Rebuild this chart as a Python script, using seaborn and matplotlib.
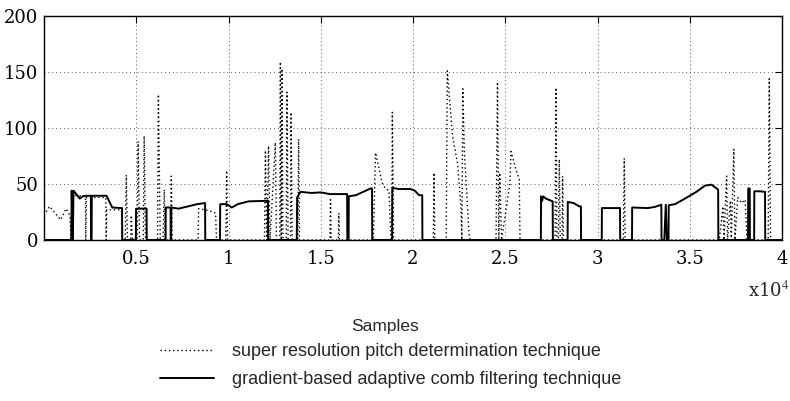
import numpy as np
import pandas as pd
import matplotlib
matplotlib.use('Agg')
import matplotlib.pyplot as plt
import seaborn as sns

# Gradient-based adaptive comb filtering (solid) - breakpoints (samples, pitch)
comb_x = [0, 1480, 1500, 1560, 1600, 1700, 1940, 2100, 2300, 2540, 2550, 2580, 2590, 3390, 3550, 3700, 4230, 4240,
          4980, 4990, 5560, 5570,
          6590, 6600, 6860, 6870, 6890, 6900, 7300, 7800, 8300, 8730, 8740,
          9540, 9550, 9900, 10180, 10500, 11090, 12140, 12150,
          13700, 13720, 13900, 14500, 15000, 15500, 16000, 16430, 16440,
          16510, 16520, 16900, 17300, 17700, 17780, 17790,
          18870, 18880, 19240, 19870, 20100, 20330, 20500, 20510,
          26930, 26940, 27000, 27050, 27200, 27570, 27580,
          28380, 28390, 28700, 29020, 29100, 29110,
          30230, 30240, 31220, 31230,
          31870, 31880, 32730, 33100, 33460, 33470, 33620, 33700, 33760,
          33850, 33860, 34200, 34640, 35000, 35360, 35820, 36180, 36540, 36550,
          38160, 38170, 38250, 38260, 38490, 38500, 38800, 39080, 39090, 40000]
comb_y = [0, 0, 44, 0, 44, 42, 37, 39, 39.5, 39.5, 0, 0, 39.5, 39.5, 34, 29, 28.5, 0,
          0, 28, 28, 0,
          0, 29, 29, 0, 0, 29, 28, 30, 32, 33, 0,
          0, 32, 32, 29, 32, 34.5, 35, 0,
          0, 38, 43, 42, 42.5, 41, 41, 41, 0,
          0, 39, 40, 43, 46, 46, 0,
          0, 46.5, 45.5, 45.5, 44, 40, 40, 0,
          0, 39, 35, 39, 37, 34.5, 0,
          0, 34, 33, 30, 30, 0,
          0, 28.5, 28.5, 0,
          0, 29, 28.5, 29.5, 31.5, 0, 0, 31.5, 0,
          0, 31, 32, 36, 39.5, 43, 48.5, 49.4, 45, 0,
          0, 46, 46, 0, 0, 43.5, 43.5, 43, 0, 0]

# Super resolution pitch determination (dotted) - breakpoints (samples, pitch)
srpd_x = [0, 300, 600, 900, 1200, 1400, 1470, 1520, 2250, 2260, 2300, 3350, 3370, 3400, 4200, 4250,
          4400, 4460, 4520, 4700, 4730, 4800,
          5050, 5100, 5180, 5380, 5430, 5500,
          6150, 6200, 6300, 6450, 6520, 6560, 6850, 6900, 6950,
          8350, 8380, 9000, 9300, 9350, 9850, 9900, 9950,
          11950, 12000, 12080, 12170, 12250, 12540, 12600, 12780, 12810, 12860, 12900, 12950,
          13130, 13170, 13230, 13360, 13390, 13450, 13760, 13800, 13850,
          15500, 15530, 15560, 15950, 15980, 16010,
          17850, 17970, 18330, 18500, 18700, 18800, 18850, 18880, 18950,
          21100, 21140, 21180, 21800, 21860, 22140, 22410, 22600, 22650, 22700, 22780, 23040, 23100,
          24500, 24580, 24650, 24700, 24800, 25250, 25310, 25580, 25760, 25800,
          27700, 27750, 27800, 27880, 27930, 27980, 28080, 28110, 28150,
          31400, 31450, 31500,
          36600, 36800, 36850, 37000, 37050, 37200, 37250, 37390, 37450, 37600, 37800, 38000, 38100,
          39250, 39310, 39380, 40000]
srpd_y = [22, 30, 24, 18, 28, 22, 0, 40, 39, 0, 38, 38, 0, 27, 27, 0,
          0, 58, 0, 0, 22, 0,
          0, 88, 0, 0, 93, 0,
          0, 130, 0, 0, 45, 0, 0, 57, 0,
          0, 28, 26, 24, 0, 0, 62, 0,
          0, 80, 0, 84, 0, 87, 0, 0, 159, 0, 153, 0,
          0, 132, 0, 0, 114, 0, 0, 90, 0,
          0, 36, 0, 0, 24, 0,
          0, 78, 51, 46, 44, 0, 0, 114, 0,
          0, 60, 0, 0, 151, 93, 69, 30, 0, 135, 80, 5, 0,
          0, 141, 0, 60, 0, 50, 79, 63, 54, 0,
          0, 136, 0, 0, 72, 0, 0, 57, 0,
          0, 73, 0,
          0, 30, 0, 57, 0, 35, 0, 81, 0, 38, 33, 36, 0,
          0, 144, 0, 0]

srpd = pd.DataFrame({'x': srpd_x, 'y': srpd_y})
comb = pd.DataFrame({'x': comb_x, 'y': comb_y})

sns.set_style('white')
plt.rcParams['mathtext.fontset'] = 'stix'

fig = plt.figure(figsize=(7.9, 4.01), dpi=100)
ax = fig.add_axes([44 / 790, 161 / 401, 738 / 790, 224 / 401])

sns.lineplot(data=srpd, x='x', y='y', ax=ax, estimator=None, sort=False,
             color='black', linestyle=(0, (1, 2)), linewidth=1.0,
             label='super resolution pitch determination technique')
sns.lineplot(data=comb, x='x', y='y', ax=ax, estimator=None, sort=False,
             color='black', linestyle='-', linewidth=1.4,
             label='gradient-based adaptive comb filtering technique')

ax.set_xlim(0, 40000)
ax.set_ylim(0, 200)
ax.set_xticks([0, 5000, 10000, 15000, 20000, 25000, 30000, 35000, 40000])
ax.set_xticklabels(['', '0.5', '1', '1.5', '2', '2.5', '3', '3.5', '4'])
ax.set_yticks([0, 50, 100, 150, 200])
ax.set_yticklabels(['0', '50', '100', '150', '200'])
ax.set_xlabel('')
ax.set_ylabel('')
for lab in ax.get_xticklabels() + ax.get_yticklabels():
    lab.set_fontfamily('DejaVu Serif')
    lab.set_fontsize(13)
ax.tick_params(direction='in', top=True, right=True, length=5, width=0.8,
               colors='black')
ax.tick_params(axis='x', pad=7)
ax.tick_params(axis='y', pad=4)
ax.grid(True, linestyle=(0, (1, 3)), color='0.35', linewidth=0.7)
for s in ax.spines.values():
    s.set_color('black')
    s.set_linewidth(1.0)

fig.text(789 / 790, 1 - 290 / 401, r'x10$^4$', ha='right', va='center',
         fontfamily='DejaVu Serif', fontsize=13)
fig.text(385 / 790, 1 - 326 / 401, 'Samples', ha='center', va='center',
         fontfamily='Liberation Sans', fontsize=12.5)

leg = ax.legend(loc='upper left', bbox_to_anchor=(160 / 790, 1 - 343 / 401),
                bbox_transform=fig.transFigure, frameon=False,
                prop={'family': 'Liberation Sans', 'size': 13},
                handlelength=3.0, handletextpad=1.0, labelspacing=0.6,
                borderaxespad=0, borderpad=0)

fig.savefig('out.png', dpi=100)
